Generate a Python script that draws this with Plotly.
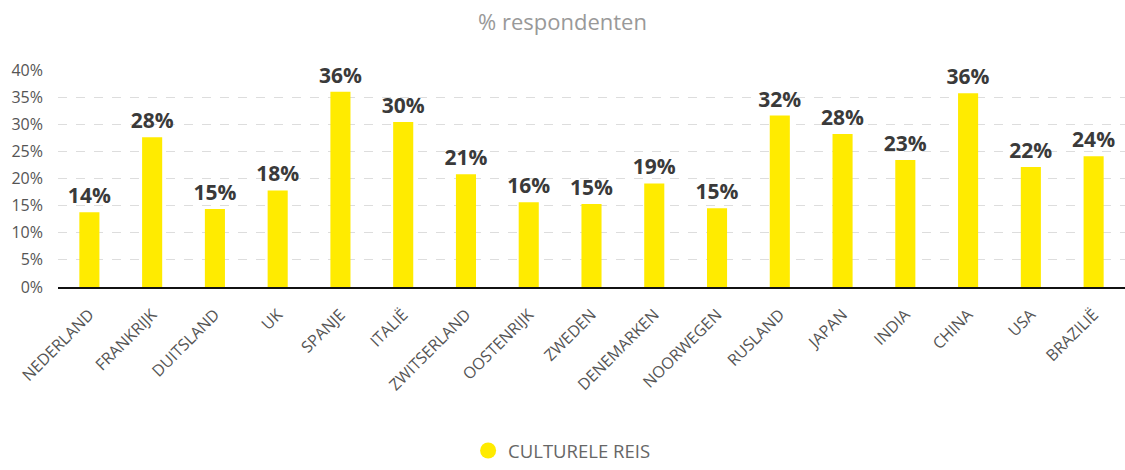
import plotly.graph_objects as go

countries = ["NEDERLAND", "FRANKRIJK", "DUITSLAND", "UK", "SPANJE", "ITALIË",
             "ZWITSERLAND", "OOSTENRIJK", "ZWEDEN", "DENEMARKEN", "NOORWEGEN",
             "RUSLAND", "JAPAN", "INDIA", "CHINA", "USA", "BRAZILIË"]
values = [13.8, 27.6, 14.4, 17.8, 36.0, 30.4, 20.8, 15.6, 15.3, 19.1, 14.5,
          31.6, 28.2, 23.4, 35.7, 22.1, 24.1]
labels = ["14%", "28%", "15%", "18%", "36%", "30%", "21%", "16%", "15%", "19%", "15%",
          "32%", "28%", "23%", "36%", "22%", "24%"]
series_name = "CULTURELE REIS"
y_ticks = [0, 5, 10, 15, 20, 25, 30, 35, 40]
y_ticktext = [f"{t}%" for t in y_ticks]

YELLOW = "#FFEB00"
FONT = "Open Sans"

fig = go.Figure()
fig.add_trace(go.Bar(
    x=countries, y=values, text=labels, textposition="outside",
    textfont=dict(family=FONT, size=21, color="#3a3a3a", weight="bold"),
    constraintext="none",
    marker=dict(color=YELLOW, line=dict(width=0)),
    cliponaxis=False, showlegend=False, name=series_name,
))
fig.add_trace(go.Scatter(
    x=[None], y=[None], mode="markers", name=series_name,
    marker=dict(symbol="circle", size=22, color=YELLOW),
))

fig.update_layout(
    width=1125, height=470,
    margin=dict(l=58, r=0, t=70, b=178),
    paper_bgcolor="white", plot_bgcolor="white",
    bargap=0.68,
    title=dict(text="% respondenten", x=0.5, xanchor="center", y=0.953, yanchor="middle",
               automargin=False,
               font=dict(family=FONT, size=22, color="#999999")),
    font=dict(family=FONT),
    legend=dict(orientation="h", x=0.472, xanchor="center", y=-0.758, yanchor="middle",
                font=dict(family=FONT, size=18.5, color="#666666"), itemsizing="trace"),
)
fig.update_xaxes(
    tickangle=-45, tickfont=dict(family=FONT, size=16, color="#555555"),
    showline=True, linecolor="#111111", linewidth=2, showgrid=False,
    ticks="", automargin=False, ticklabelstandoff=10,
)
fig.update_yaxes(
    range=[0, 40], tickvals=y_ticks, ticktext=y_ticktext,
    tickfont=dict(family=FONT, size=16, color="#555555"),
    showgrid=True, gridcolor="#dddddd", griddash="dash", gridwidth=1,
    zeroline=False, ticklabelstandoff=14, automargin=False,
)

fig.write_html("out.html", config={"displayModeBar": False},
               post_script="document.body.style.margin='0';document.body.style.overflow='hidden';")
